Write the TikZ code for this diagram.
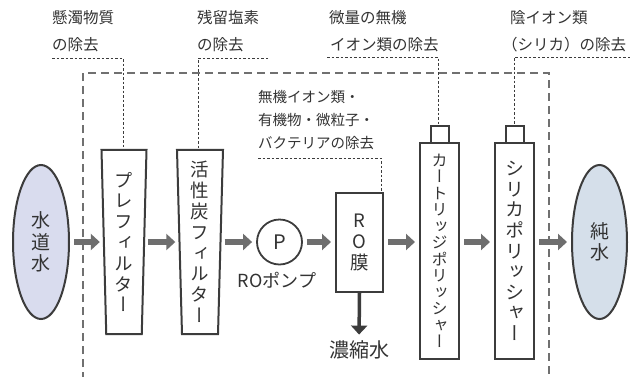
\documentclass[tikz,border=0pt]{standalone}
\usepackage{fontspec}
\setmainfont{Noto Sans CJK JP}
\newfontfamily\vjp{Noto Sans CJK JP}[RawFeature=+vert]
\usetikzlibrary{arrows.meta,shapes.geometric}
\definecolor{edge}{HTML}{3C3C3C}
\definecolor{flowc}{HTML}{6E6E6E}
\definecolor{txt}{HTML}{333333}
\definecolor{tapc}{HTML}{D9DCEE}
\definecolor{purec}{HTML}{D5DFEA}
\definecolor{framec}{HTML}{707070}
\tikzset{
  box/.style={draw=edge, line width=2pt, fill=white, inner sep=0pt, text=txt},
  ell/.style={ellipse, draw=edge, line width=2pt, inner sep=0pt, text=txt, align=center, font=\vjp\fontsize{19}{21.5}\selectfont},
  vtxt/.style={align=center, text=txt, font=\vjp\fontsize{18.5}{20.8}\selectfont},
  flow/.style={draw=flowc, line width=6pt, -{Triangle[length=9pt,width=16pt]}, shorten <=4pt, shorten >=4pt},
  lab/.style={text=txt, inner sep=0pt, anchor=west, font=\fontsize{15.5}{18}\selectfont},
  rolab/.style={text=txt, inner sep=0pt, anchor=west, font=\fontsize{14.5}{18}\selectfont},
  leader/.style={draw=edge, line width=0.9pt, dash pattern=on 2.5pt off 2pt},
  frame/.style={draw=framec, line width=2.5pt, dash pattern=on 8pt off 5pt}
}
\begin{document}
\begin{tikzpicture}[x=1pt,y=-1pt]
\useasboundingbox[fill=white] (0,0) rectangle (630,376);

% dashed frame
\coordinate (fbl) at (83,380);
\coordinate (ftl) at (83,73);
\coordinate (ftr) at (549,73);
\coordinate (fbr) at (549,380);
\draw[frame] (fbl) -- (ftl) -- (ftr) -- (fbr);

% end points
\node[ell, fill=tapc, minimum width=56pt, minimum height=154pt] (tap) at (41,242) {水\\道\\水};
\node[ell, fill=purec, minimum width=55pt, minimum height=154pt] (pure) at (599.5,242) {純\\水};

% pre filter (trapezoid)
\node[vtxt, minimum width=40pt, minimum height=184pt, inner sep=0pt] (pf) at (124,242) {};
\draw[box] ([xshift=-22.5pt]pf.north) -- ([xshift=22.5pt]pf.north) -- ([xshift=17.75pt]pf.south) -- ([xshift=-17.75pt]pf.south) -- cycle;
\node[vtxt] (pft) at (pf) {プ\\レ\\フ\\ィ\\ル\\タ\\ー};

% activated carbon filter
\node[vtxt, minimum width=41pt, minimum height=184pt, inner sep=0pt] (ac) at (200,242) {};
\draw[box] ([xshift=-23pt]ac.north) -- ([xshift=23pt]ac.north) -- ([xshift=18pt]ac.south) -- ([xshift=-18pt]ac.south) -- cycle;
\node[vtxt] (act) at (ac) {活\\性\\炭\\フ\\ィ\\ル\\タ\\ー};

% pump
\node[circle, draw=edge, line width=1.8pt, minimum size=45pt, inner sep=0pt, text=txt, font=\fontsize{20}{22}\selectfont] (pump) at (279.5,242) {P};
\node[text=txt, inner sep=0pt, font=\fontsize{18}{20}\selectfont] (pumpl) at (277,280) {ROポンプ};

% RO membrane
\node[box, vtxt, minimum width=47pt, minimum height=99pt] (ro) at (359.5,242.5) {R\\O\\膜};
\node[text=txt, inner sep=0pt, font=\fontsize{20}{22}\selectfont] (conc) at (359,350) {濃縮水};

% cartridge polisher
\node[box, minimum width=39pt, minimum height=216pt] (cp) at (439.5,251) {};
\node[box, minimum width=18pt, minimum height=17pt] (cpc) at (440,134.5) {};
\node[vtxt, font=\vjp\fontsize{16}{16.5}\selectfont] (cpt) at (cp) {カ\\ー\\ト\\リ\\ッ\\ジ\\ポ\\リ\\ッ\\シ\\ャ\\ー};

% silica polisher
\node[box, minimum width=39pt, minimum height=216pt] (sp) at (514.5,251) {};
\node[box, minimum width=18pt, minimum height=17pt] (spc) at (515,134.5) {};
\node[vtxt, font=\vjp\fontsize{19}{20.6}\selectfont] (spt) at (sp) {シ\\リ\\カ\\ポ\\リ\\ッ\\シ\\ャ\\ー};

% flow arrows
\draw[flow] (tap.east) -- (tap.east -| pf.west);
\draw[flow] (pf.east) -- (pf.east -| ac.west);
\draw[flow] (ac.east) -- (ac.east -| pump.west);
\draw[flow] (pump.east) -- (pump.east -| ro.west);
\draw[flow] (ro.east |- pump.east) -- (pump.east -| cp.west);
\draw[flow] (cp.east |- pump.east) -- (pump.east -| sp.west);
\draw[flow] (sp.east |- pump.east) -- (pump.east -| pure.west);
\draw[draw=edge, line width=3.5pt, -{Triangle[length=9pt,width=16pt]}, shorten >=6pt] (ro.south) -- (conc.north);

% labels and leaders
\node[lab] (t1a) at (52,18) {懸濁物質};
\node[lab] (t1b) at (52,44.5) {の除去};
\coordinate (l1s) at (52,58);
\coordinate (l1) at (123,58);
\draw[leader] (l1s) -- (l1) -- (l1 |- pf.north);

\node[lab] (t2a) at (197,18) {残留塩素};
\node[lab] (t2b) at (197,44.5) {の除去};
\coordinate (l2) at (198,58);
\coordinate (l2e) at (268,58);
\draw[leader] (l2e) -- (l2) -- (l2 |- ac.north);

\node[lab] (t3a) at (329,18) {微量の無機};
\node[lab] (t3b) at (330,44.5) {イオン類の除去};
\coordinate (l3s) at (327,57);
\coordinate (l3) at (438,57);
\draw[leader] (l3s) -- (l3) -- (l3 |- cpc.north);

\node[lab] (t4a) at (510,18) {陰イオン類};
\node[lab] (t4b) at (502,44.5) {（シリカ）の除去};
\coordinate (l4) at (514,57);
\coordinate (l4e) at (630,57);
\draw[leader] (l4e) -- (l4) -- (l4 |- spc.north);

\node[rolab] (r1) at (258,96.5) {無機イオン類・};
\node[rolab] (r2) at (258,120) {有機物・微粒子・};
\node[rolab] (r3) at (258,143.5) {バクテリアの除去};
\coordinate (l5s) at (258,158);
\coordinate (l5) at (381,158);
\draw[leader] (l5s) -- (l5) -- (l5 |- ro.north);
\end{tikzpicture}
\end{document}
